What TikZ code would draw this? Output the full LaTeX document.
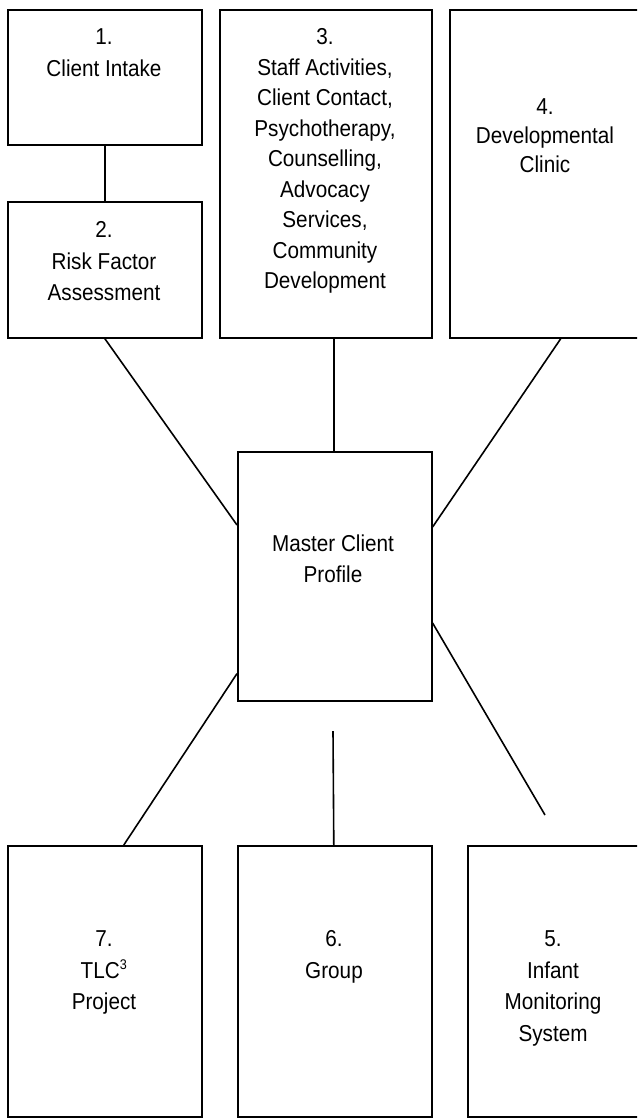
\documentclass[tikz,border=0pt]{standalone}
\usepackage{fontspec}
\setmainfont{Liberation Sans}[FakeStretch=0.9]
\begin{document}
\begin{tikzpicture}[x=1pt,y=-1pt,
  box/.style={draw, line width=1.6pt, rectangle, anchor=north west, inner sep=0pt},
  txt/.style={anchor=north, align=center, inner sep=0pt, font=\fontsize{23}{31.5}\selectfont},
  link/.style={line width=1.6pt}]
\clip (0,0) rectangle (637,1118);
% boxes
\node[box, minimum width=194pt, minimum height=135pt] (b1) at (7,9) {};
\node[box, minimum width=194pt, minimum height=136pt] (b2) at (7,201) {};
\node[box, minimum width=212pt, minimum height=328pt] (b3) at (219,9) {};
\node[box, minimum width=222pt, minimum height=328pt] (b4) at (449,9) {};
\node[box, minimum width=194pt, minimum height=249pt] (m) at (237,451) {};
\node[box, minimum width=194pt, minimum height=271pt] (b7) at (7,845) {};
\node[box, minimum width=194pt, minimum height=271pt] (b6) at (237,845) {};
\node[box, minimum width=200pt, minimum height=271pt] (b5) at (467,845) {};
% texts
\node[txt] (t1) at (104,28.5) {1.\\Client Intake};
\node[txt] (t2) at (104,221.5) {2.\\Risk Factor\\Assessment};
\node[txt, font=\fontsize{23}{30.5}\selectfont] (t3) at (325,28.5) {3.\\Staff Activities,\\Client Contact,\\Psychotherapy,\\Counselling,\\Advocacy\\Services,\\Community\\Development};
\node[txt, font=\fontsize{23}{29}\selectfont] (t4) at (545,98.5) {4.\\Developmental\\Clinic};
\node[txt] (tm) at (333,534.5) {Master Client\\Profile};
\node[txt] (t7) at (104,930.5) {7.\\TLC\textsuperscript{\fontsize{14}{14}\selectfont 3}\\Project};
\node[txt] (t6) at (334,930.5) {6.\\Group};
\node[txt] (t5) at (553,930.5) {5.\\Infant\\Monitoring\\System};
% free ends
\coordinate (e6) at (333,731);
\coordinate (e5) at (545,815);
% connectors
\draw[link] (b1.south) -- (b2.north);
\draw[link] (b2.south) -- ([yshift=-74pt]m.north west);
\draw[link] ([xshift=-1pt]m.north) -- ([xshift=-1pt]m.north |- b3.south);
\draw[link] (b4.south) -- ([yshift=-76pt]m.north east);
\draw[link] ([yshift=-172pt]m.north east) -- (e5);
\draw[link] ([yshift=28pt]m.south west) -- ([xshift=19pt]b7.north);
\draw[link] (e6) -- ([xshift=-1pt]b6.north);
\end{tikzpicture}
\end{document}
